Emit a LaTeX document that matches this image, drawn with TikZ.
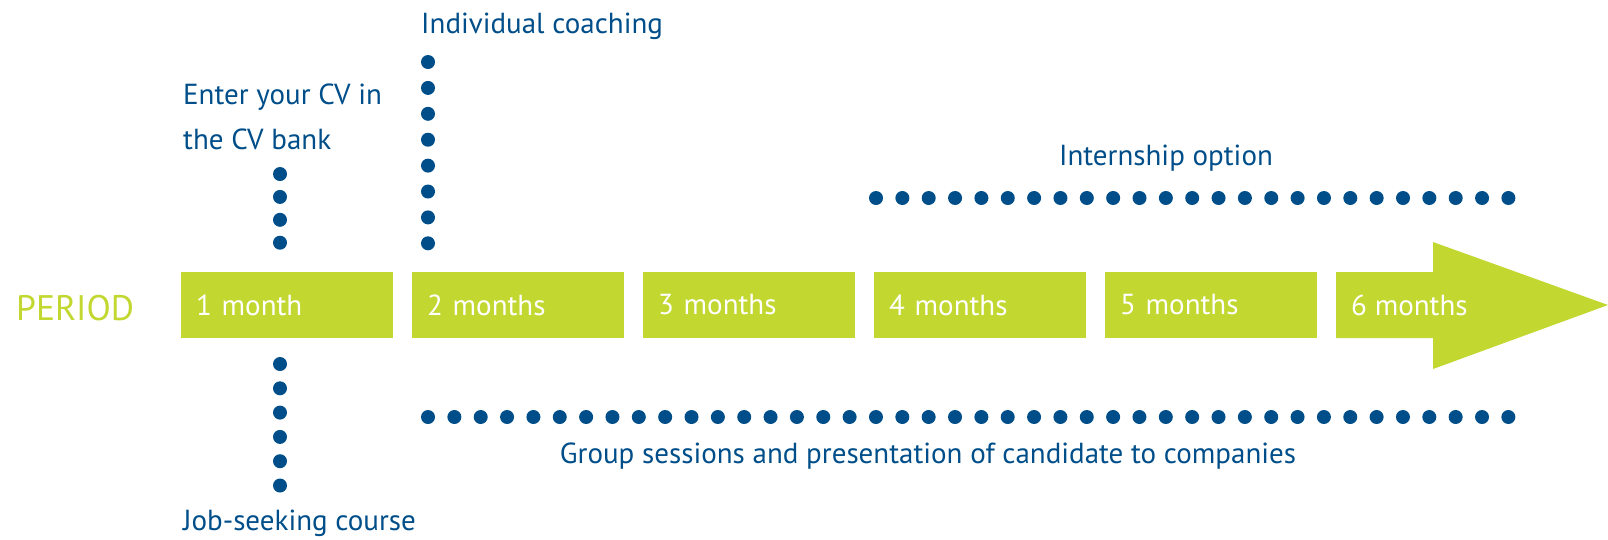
\documentclass[tikz,border=0pt]{standalone}
\usepackage{fontspec}
\setmainfont{PT Sans}

\definecolor{periodgreen}{RGB}{194,215,47}
\definecolor{cvblue}{RGB}{0,78,137}

\begin{document}
\begin{tikzpicture}[x=1pt, y=-1pt,
    every node/.style={inner sep=0pt, font=\fontsize{29}{45}\selectfont},
    monthbox/.style={fill=periodgreen, text=white, anchor=west, align=left,
      minimum height=66pt, text width=182pt, inner xsep=15pt},
    monthtext/.style={text=white, anchor=west, inner xsep=15pt},
    steplabel/.style={text=cvblue, anchor=base west, align=left},
    dotrow/.style={draw=cvblue, line width=14pt, line cap=round, dash pattern=on 0pt off #1}]
      \useasboundingbox (0,0) rectangle (1608,539);

      % Period label
      \node[text=periodgreen, anchor=base west, font=\fontsize{35.5}{40}\selectfont] (period) at (16,320) {PERIOD};

      % Month boxes
      \node[monthbox] (m1) at (181,305) {1 month};
      \node[monthbox] (m2) at (412,305) {2 months};
      \node[monthbox] (m3) at (643,305) {3 months};
      \node[monthbox] (m4) at (874,305) {4 months};
      \node[monthbox] (m5) at (1105,305) {5 months};

      % Last month as arrow
      \fill[periodgreen] (1336,272) -- (1433,272) -- (1433,242) -- (1608,305) -- (1433,369) -- (1433,338) -- (1336,338) -- cycle;
      \node[monthtext] (m6) at (1336,305) {6 months};

      % Labels
      \node[steplabel] (coach) at (421,33) {Individual coaching};
      \node[steplabel] (cvbank) at (183,149) {Enter your CV in\\the CV bank};
      \node[steplabel] (course) at (183,530) {Job-seeking course};
      \node[text=cvblue, anchor=base] (intern) at (1166,165) {Internship option};
      \node[text=cvblue, anchor=base] (group) at (928,463) {Group sessions and presentation of candidate to companies};

      % Dotted connectors
      \coordinate (coachtop) at (428,62);
      \coordinate (coachbot) at (428,244);
      \coordinate (cvtop) at (280,174);
      \coordinate (cvbot) at (280,243);
      \coordinate (coursetop) at (280,364);
      \coordinate (coursebot) at (280,486);
      \coordinate (internstart) at (876,198);
      \coordinate (internend) at (1510,198);
      \coordinate (groupstart) at (428,417);
      \coordinate (groupend) at (1510,417);

      \draw[dotrow=25.9pt] (coachtop) -- (coachbot);
      \draw[dotrow=22.9pt] (cvtop) -- (cvbot);
      \draw[dotrow=24.3pt] (coursetop) -- (coursebot);
      \draw[dotrow=26.35pt] (internstart) -- (internend);
      \draw[dotrow=26.35pt] (groupstart) -- (groupend);

    \end{tikzpicture}
\end{document}
